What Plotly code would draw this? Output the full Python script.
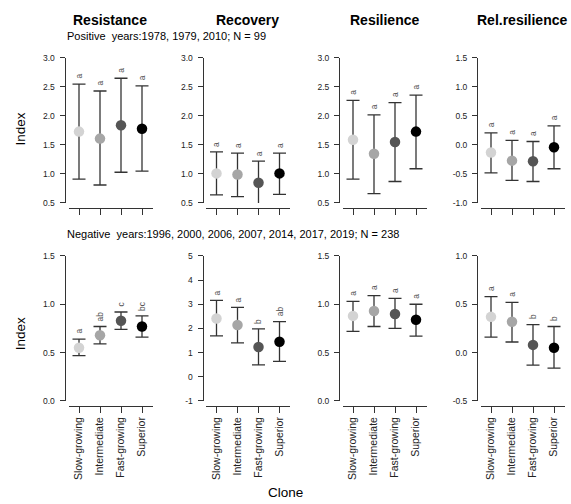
import plotly.graph_objects as go

clones = ["Slow-growing", "Intermediate", "Fast-growing", "Superior"]
metrics = ["Resistance", "Recovery", "Resilience", "Rel.resilience"]
point_colors = ["#d3d3d3", "#a6a6a6", "#555555", "#000000"]

# Positive years
pos_mean = {
    "Resistance": [1.73, 1.61, 1.84, 1.78],
    "Recovery": [1.01, 0.99, 0.85, 1.01],
    "Resilience": [1.59, 1.35, 1.55, 1.73],
    "Rel.resilience": [-0.13, -0.27, -0.28, -0.04],
}
pos_upper = {
    "Resistance": [2.55, 2.43, 2.65, 2.52],
    "Recovery": [1.38, 1.36, 1.22, 1.36],
    "Resilience": [2.27, 2.02, 2.23, 2.36],
    "Rel.resilience": [0.21, 0.08, 0.06, 0.33],
}
pos_lower = {
    "Resistance": [0.91, 0.81, 1.03, 1.05],
    "Recovery": [0.64, 0.61, 0.49, 0.65],
    "Resilience": [0.91, 0.66, 0.87, 1.09],
    "Rel.resilience": [-0.48, -0.61, -0.63, -0.41],
}
pos_letters = {
    "Resistance": ["a", "a", "a", "a"],
    "Recovery": ["a", "a", "a", "a"],
    "Resilience": ["a", "a", "a", "a"],
    "Rel.resilience": ["a", "a", "a", "a"],
}
pos_ticks = {
    "Resistance": [0.5, 1.0, 1.5, 2.0, 2.5, 3.0],
    "Recovery": [0.5, 1.0, 1.5, 2.0, 2.5, 3.0],
    "Resilience": [0.5, 1.0, 1.5, 2.0, 2.5, 3.0],
    "Rel.resilience": [-1.0, -0.5, 0.0, 0.5, 1.0, 1.5],
}
pos_ticktext = {
    "Resistance": ["0.5", "1.0", "1.5", "2.0", "2.5", "3.0"],
    "Recovery": ["0.5", "1.0", "1.5", "2.0", "2.5", "3.0"],
    "Resilience": ["0.5", "1.0", "1.5", "2.0", "2.5", "3.0"],
    "Rel.resilience": ["-1.0", "-0.5", "0.0", "0.5", "1.0", "1.5"],
}

# Negative years
neg_mean = {
    "Resistance": [0.55, 0.68, 0.83, 0.77],
    "Recovery": [2.41, 2.14, 1.23, 1.45],
    "Resilience": [0.88, 0.93, 0.90, 0.84],
    "Rel.resilience": [0.37, 0.32, 0.08, 0.05],
}
neg_upper = {
    "Resistance": [0.64, 0.77, 0.92, 0.88],
    "Recovery": [3.16, 2.87, 1.98, 2.28],
    "Resilience": [1.03, 1.09, 1.06, 1.00],
    "Rel.resilience": [0.58, 0.52, 0.29, 0.27],
}
neg_lower = {
    "Resistance": [0.47, 0.59, 0.74, 0.66],
    "Recovery": [1.69, 1.40, 0.49, 0.64],
    "Resilience": [0.72, 0.77, 0.75, 0.67],
    "Rel.resilience": [0.16, 0.11, -0.13, -0.16],
}
neg_letters = {
    "Resistance": ["a", "ab", "c", "bc"],
    "Recovery": ["a", "a", "b", "ab"],
    "Resilience": ["a", "a", "a", "a"],
    "Rel.resilience": ["a", "a", "b", "b"],
}
neg_ticks = {
    "Resistance": [0.0, 0.5, 1.0, 1.5],
    "Recovery": [-1, 0, 1, 2, 3, 4, 5],
    "Resilience": [0.0, 0.5, 1.0, 1.5],
    "Rel.resilience": [-0.5, 0.0, 0.5, 1.0],
}
neg_ticktext = {
    "Resistance": ["0.0", "0.5", "1.0", "1.5"],
    "Recovery": ["-1", "0", "1", "2", "3", "4", "5"],
    "Resilience": ["0.0", "0.5", "1.0", "1.5"],
    "Rel.resilience": ["-0.5", "0.0", "0.5", "1.0"],
}

pos_subtitle = "Positive\u00a0 years:1978, 1979, 2010; N = 99"
neg_subtitle = "Negative\u00a0 years:1996, 2000, 2006, 2007, 2014, 2017, 2019; N = 238"

# ---- layout (pixels) ----
W, H = 571, 504
FONT = "Liberation Sans, Arial, sans-serif"
yaxis_px = [64.5, 202.5, 339, 477]
dom_start = [68.5, 206, 342.5, 480.5]
dom_w = 84
rows = [
    dict(top=54, bottom=202, xline=207, mean=pos_mean, up=pos_upper, lo=pos_lower,
         let=pos_letters, tv=pos_ticks, tt=pos_ticktext, labels=False),
    dict(top=256, bottom=404, xline=409, mean=neg_mean, up=neg_upper, lo=neg_lower,
         let=neg_letters, tv=neg_ticks, tt=neg_ticktext, labels=True),
]

fig = go.Figure()
annotations = []
axcol = "#333333"
n = 0
for r, row in enumerate(rows):
    for c, m in enumerate(metrics):
        n += 1
        xa = "x" if n == 1 else f"x{n}"
        ya = "y" if n == 1 else f"y{n}"
        mean = row["mean"][m]
        up = row["up"][m]
        lo = row["lo"][m]
        fig.add_trace(go.Scatter(
            x=clones, y=mean, xaxis=xa, yaxis=ya, mode="markers",
            marker=dict(size=10.5, color=point_colors, line=dict(width=0)),
            error_y=dict(type="data", symmetric=False,
                         array=[u - v for u, v in zip(up, mean)],
                         arrayminus=[v - l for v, l in zip(mean, lo)],
                         color="#333333", thickness=1.3, width=6.5),
            cliponaxis=False, showlegend=False, hoverinfo="skip",
        ))
        for cl, u, lt in zip(clones, up, row["let"][m]):
            annotations.append(dict(
                x=cl, y=u, xref=xa, yref=ya, text=lt, showarrow=False,
                textangle=-90, yanchor="bottom", xanchor="center", yshift=3,
                font=dict(size=8.5, color="#555555", family=FONT)))
        tv = row["tv"][m]
        xkey = "xaxis" if n == 1 else f"xaxis{n}"
        ykey = "yaxis" if n == 1 else f"yaxis{n}"
        fig.layout[xkey] = dict(
            domain=[dom_start[c] / W, (dom_start[c] + dom_w) / W],
            anchor="free", position=1 - row["xline"] / H,
            type="category", categoryorder="array", categoryarray=clones,
            range=[-0.5, 3.5], showline=True, linecolor=axcol, linewidth=1,
            ticks="outside", ticklen=6, tickcolor=axcol, tickwidth=1,
            showticklabels=row["labels"], tickangle=-90,
            tickfont=dict(size=10.5, color="#222222", family=FONT),
            showgrid=False, zeroline=False, fixedrange=True,
        )
        fig.layout[ykey] = dict(
            domain=[1 - row["bottom"] / H, 1 - row["top"] / H],
            anchor="free", position=yaxis_px[c] / W,
            range=[tv[0], tv[-1]], tickvals=tv, ticktext=row["tt"][m],
            showline=True, linecolor=axcol, linewidth=1,
            ticks="outside", ticklen=5, tickcolor=axcol, tickwidth=1,
            tickfont=dict(size=8.5, color="#222222", family=FONT),
            ticklabelstandoff=3,
            showgrid=False, zeroline=False, fixedrange=True,
        )

title_x = [110, 247.5, 384.5, 522]
for m, tx in zip(metrics, title_x):
    annotations.append(dict(x=tx / W, y=1 - 15 / H, xref="paper", yref="paper",
                            text=f"<b>{m}</b>", showarrow=False, xanchor="center",
                            yanchor="middle", font=dict(size=14, color="#000", family=FONT)))
annotations.append(dict(x=65 / W, y=1 - 32 / H, xref="paper", yref="paper",
                        text=pos_subtitle, showarrow=False, xanchor="left", yanchor="middle",
                        font=dict(size=11, color="#000", family=FONT)))
annotations.append(dict(x=65 / W, y=1 - 234 / H, xref="paper", yref="paper",
                        text=neg_subtitle, showarrow=False, xanchor="left", yanchor="middle",
                        font=dict(size=11, color="#000", family=FONT)))
for yy in (127, 336):
    annotations.append(dict(x=20 / W, y=1 - yy / H, xref="paper", yref="paper",
                            text="Index", showarrow=False, textangle=-90,
                            xanchor="center", yanchor="middle",
                            font=dict(size=13.5, color="#000", family=FONT)))
annotations.append(dict(x=285 / W, y=1 - 497 / H, xref="paper", yref="paper",
                        text="Clone", showarrow=False, xanchor="center", yanchor="middle",
                        font=dict(size=13.5, color="#000", family=FONT)))

fig.update_layout(
    width=W, height=H, margin=dict(l=0, r=0, t=0, b=0),
    paper_bgcolor="white", plot_bgcolor="white",
    annotations=annotations, showlegend=False,
    font=dict(family=FONT),
)
fig.write_html("out.html", config={"displayModeBar": False, "staticPlot": True},
               post_script="document.body.style.margin='0';document.body.style.overflow='hidden';")
